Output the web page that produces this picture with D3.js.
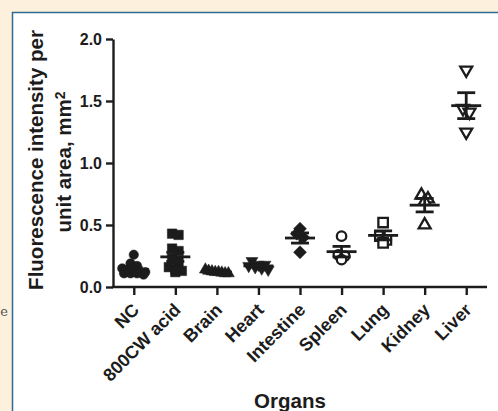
<!DOCTYPE html>
<html>
<head>
<meta charset="utf-8">
<script src="https://cdn.jsdelivr.net/npm/d3@7"></script>
<style>
  html, body { margin: 0; padding: 0; background: #fff; }
  svg { display: block; }
</style>
</head>
<body>
<svg id="chart"></svg>
<script>
// organs on the x axis
const categories = ['NC', '800CW acid', 'Brain', 'Heart', 'Intestine', 'Spleen', 'Lung', 'Kidney', 'Liver'];

// fluorescence intensity per unit area, one array per organ
const ncValues        = [0.26, 0.19, 0.17, 0.15, 0.14, 0.13, 0.12, 0.12, 0.11, 0.11, 0.11, 0.10];
const acidValues      = [0.43, 0.42, 0.31, 0.29, 0.23, 0.20, 0.16, 0.14, 0.13, 0.12];
const brainValues     = [0.14, 0.13, 0.125, 0.12, 0.12, 0.115, 0.11, 0.11];
const heartValues     = [0.21, 0.18, 0.18, 0.17, 0.16, 0.15, 0.14];
const intestineValues = [0.47, 0.43, 0.40, 0.28];
const spleenValues    = [0.41, 0.26, 0.25, 0.22];
const lungValues      = [0.52, 0.41, 0.38, 0.355];
const kidneyValues    = [0.74, 0.71, 0.69, 0.50];
const liverValues     = [1.75, 1.44, 1.41, 1.25];

const yTicks = [0, 0.5, 1.0, 1.5, 2.0];

const groups = [ncValues, acidValues, brainValues, heartValues, intestineValues,
                spleenValues, lungValues, kidneyValues, liverValues];
// marker per organ: shape + filled/open
const markers = [
  { shape: 'circle',   filled: true },
  { shape: 'square',   filled: true },
  { shape: 'triUp',    filled: true },
  { shape: 'triDown',  filled: true },
  { shape: 'diamond',  filled: true },
  { shape: 'circle',   filled: false },
  { shape: 'square',   filled: false },
  { shape: 'triUp',    filled: false },
  { shape: 'triDown',  filled: false }
];

const W = 498, H = 411;
const FONT = "'Liberation Sans', Arial, Helvetica, sans-serif";
const INK = '#1c1c1c';

const svg = d3.select('#chart').attr('width', W).attr('height', H);

// page frame: cream margin, blue rule, white panel
svg.append('rect').attr('width', W).attr('height', H).attr('fill', '#fdf1dd');
svg.append('rect').attr('x', 12).attr('y', 12).attr('width', W - 12).attr('height', H - 12).attr('fill', '#fff');
svg.append('path').attr('d', `M12.5,${H}V12.5H${W}`)
  .attr('fill', 'none').attr('stroke', '#2f6a94').attr('stroke-width', 1.5);
// clipped letter of the article text on the left
svg.append('text').attr('x', 8).attr('y', 316).attr('text-anchor', 'end')
  .attr('font-family', 'DejaVu Serif, serif').attr('font-size', 13).attr('fill', '#555').text('e');

const plotL = 113, plotR = 487, plotT = 39, plotB = 287;

const x = d3.scalePoint().domain(categories).range([plotL, plotR]).padding(0.5);
const y = d3.scaleLinear().domain([0, 2]).range([plotB, plotT]);

// y axis
const yAxis = svg.append('g').attr('transform', `translate(${plotL},0)`)
  .call(d3.axisLeft(y).tickValues(yTicks).tickFormat(d3.format('.1f')).tickSize(7).tickSizeOuter(0).tickPadding(4));
yAxis.select('.domain').attr('stroke', INK).attr('stroke-width', 2.4);
yAxis.selectAll('.tick line').attr('stroke', INK).attr('stroke-width', 2.4);
yAxis.selectAll('.tick text').attr('font-family', FONT).attr('font-size', 16)
  .attr('font-weight', 'bold').attr('fill', INK);

// x axis
const xAxis = svg.append('g').attr('transform', `translate(0,${plotB})`)
  .call(d3.axisBottom(x).tickSize(8).tickSizeOuter(0));
xAxis.select('.domain').attr('stroke', INK).attr('stroke-width', 2.4)
  .attr('d', `M${plotL - 1.2},0H${plotR}`);
xAxis.selectAll('.tick line').attr('stroke', INK).attr('stroke-width', 2.4);
xAxis.selectAll('.tick text')
  .attr('font-family', FONT).attr('font-size', 18).attr('font-weight', 'bold').attr('fill', INK)
  .attr('text-anchor', 'end')
  .attr('y', 0).attr('dy', 0)
  .attr('transform', 'translate(6,24) rotate(-45)');

// axis titles
const yTitle = svg.append('g').attr('font-family', FONT).attr('font-size', 20.5)
  .attr('font-weight', 'bold').attr('fill', INK).attr('text-anchor', 'middle');
yTitle.append('text').attr('transform', 'translate(43,160) rotate(-90)')
  .text('Fluorescence intensity per');
const t2 = yTitle.append('text').attr('transform', 'translate(71,162) rotate(-90)');
t2.append('tspan').text('unit area, mm');
t2.append('tspan').attr('dy', '-0.45em').attr('font-size', 14).text('2');

svg.append('text').attr('x', 290).attr('y', 408).attr('text-anchor', 'middle')
  .attr('font-family', FONT).attr('font-size', 20.5).attr('font-weight', 'bold').attr('fill', INK)
  .text('Organs');

// marker paths
function markerPath(shape) {
  if (shape === 'circle') return d3.symbol(d3.symbolCircle, 70)();
  if (shape === 'square') return d3.symbol(d3.symbolSquare, 90)();
  if (shape === 'triUp' || shape === 'triDown') return d3.symbol(d3.symbolTriangle, 62)();
  return 'M0,-6.5L6.5,0L0,6.5L-6.5,0Z';
}

// spread overlapping points sideways in rows, like a column scatter plot
function spread(values, rowH, step, maxW) {
  const idx = values.map((v, i) => i).sort((a, b) => values[b] - values[a]);
  const rows = [];
  idx.forEach(i => {
    const py = y(values[i]);
    const last = rows[rows.length - 1];
    if (last && py - last.top < rowH) last.items.push(i);
    else rows.push({ top: py, items: [i] });
  });
  const off = new Array(values.length).fill(0);
  rows.forEach(r => {
    const n = r.items.length;
    const s = n > 1 ? Math.min(step, maxW / (n - 1)) : 0;
    r.items.forEach((i, k) => { off[i] = (k - (n - 1) / 2) * s; });
  });
  return off;
}

groups.forEach((vals, gi) => {
  const cx = x(categories[gi]);
  const mk = markers[gi];
  const g = svg.append('g');
  const offs = spread(vals, 4.5, 6.5, 23);
  g.selectAll('path.pt').data(vals).join('path')
    .attr('class', 'pt')
    .attr('d', markerPath(mk.shape))
    .attr('transform', (d, i) => `translate(${cx + offs[i]},${y(d)})` + (mk.shape === 'triDown' ? ' rotate(180)' : ''))
    .attr('fill', mk.filled ? INK : '#fff')
    .attr('stroke', INK)
    .attr('stroke-width', mk.filled ? 0.5 : 2.3);

  // mean with SEM
  const m = d3.mean(vals);
  const sem = d3.deviation(vals) / Math.sqrt(vals.length);
  const bar = g.append('g').attr('stroke', INK).attr('stroke-width', 2.8).attr('fill', 'none');
  bar.append('line').attr('x1', cx).attr('x2', cx).attr('y1', y(m + sem)).attr('y2', y(m - sem));
  bar.append('line').attr('x1', cx - 9).attr('x2', cx + 9).attr('y1', y(m + sem)).attr('y2', y(m + sem));
  bar.append('line').attr('x1', cx - 9).attr('x2', cx + 9).attr('y1', y(m - sem)).attr('y2', y(m - sem));
  bar.append('line').attr('x1', cx - 15).attr('x2', cx + 15).attr('y1', y(m)).attr('y2', y(m));
});
</script>
</body>
</html>
